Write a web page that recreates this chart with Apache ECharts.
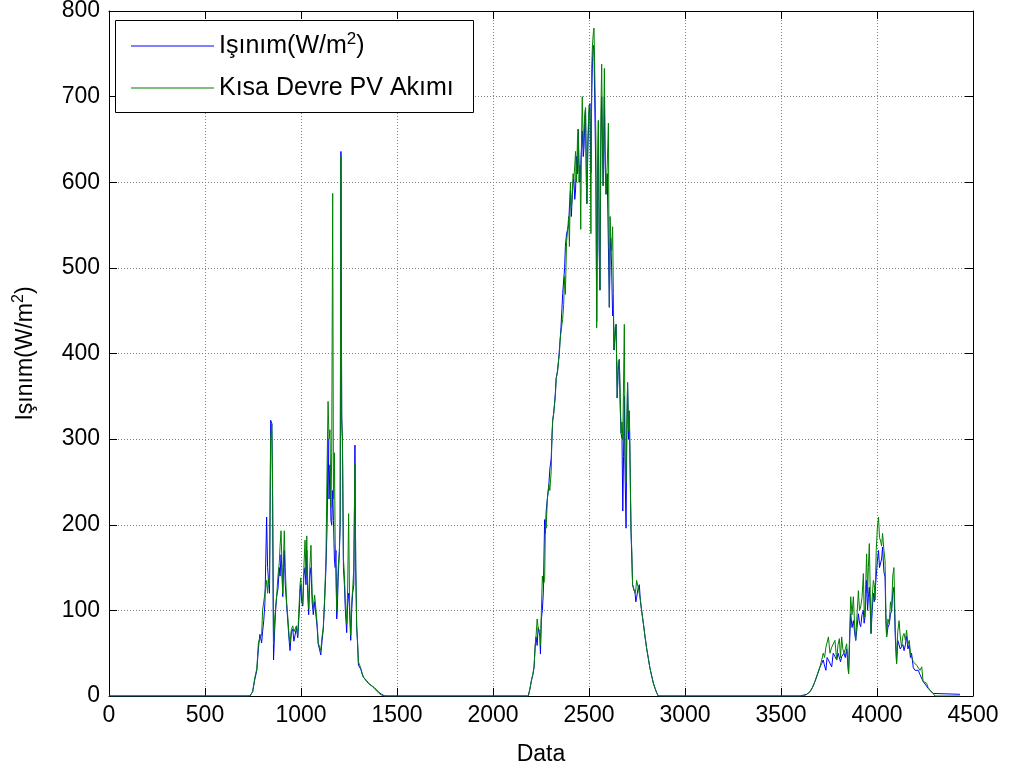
<!DOCTYPE html>
<html><head><meta charset="utf-8">
<script src="https://cdn.jsdelivr.net/npm/echarts@6/dist/echarts.min.js"></script>
<style>html,body{margin:0;padding:0;background:#fff}#c{width:1012px;height:771px}</style>
</head><body><div id="c"></div>
<script>
// ---- data ----
const seriesNames = ['Işınım(W/m²)', 'Kısa Devre PV Akımı'];
const xTickValues = [0, 500, 1000, 1500, 2000, 2500, 3000, 3500, 4000, 4500];
const yTickValues = [0, 100, 200, 300, 400, 500, 600, 700, 800];

const startIndex = [0];
const startIrradiance = [0];
const startCurrent = [0];

const day1Index = [
  734, 748, 760, 770, 778, 786, 795, 800, 806, 812,
  821, 826, 830, 836, 842, 848, 852, 857, 863, 868,
  873, 880, 887, 891, 896, 900, 905, 909, 913, 918,
  925, 932, 938, 943, 950, 957, 963, 969, 976, 983,
  990, 995, 999, 1004, 1009, 1015, 1021, 1026, 1030, 1035,
  1040, 1046, 1052, 1058, 1064, 1071, 1078, 1084, 1090, 1096,
  1103, 1110, 1116, 1123, 1130, 1136, 1141, 1146, 1151, 1156,
  1160, 1165, 1169, 1174, 1178, 1182, 1186, 1189, 1194, 1200,
  1204, 1208, 1212, 1216, 1221, 1226, 1231, 1238, 1243, 1248,
  1253, 1259, 1264, 1269, 1275, 1281, 1285, 1290, 1295, 1299,
  1306, 1312, 1318, 1325, 1333, 1342, 1355, 1368, 1381, 1394,
  1407, 1420, 1437];
const day1Irradiance = [
  0, 5, 20, 30, 55, 72, 62, 75, 88, 108,
  209, 150, 138, 120, 322, 318, 230, 42, 78, 100,
  116, 125, 150, 140, 165, 150, 116, 150, 170, 130,
  107, 85, 65, 53, 75, 78, 64, 71, 80, 68,
  95, 120, 130, 110, 105, 140, 150, 130, 170, 120,
  95, 140, 150, 110, 95, 110, 110, 80, 60, 55,
  48, 65, 78, 110, 150, 200, 300, 230, 270, 205,
  200, 240, 205, 160, 150, 170, 90, 100, 140, 169,
  200, 636, 330, 290, 150, 130, 100, 74, 110, 120,
  100, 65, 100, 120, 130, 293, 150, 80, 60, 36,
  35, 31, 26, 22, 20, 17, 14, 12, 10, 7,
  4, 2, 0];
const day1Current = [
  0, 5, 22, 32, 62, 68, 71, 100, 102, 120,
  135, 120, 138, 130, 300, 318, 250, 60, 90, 104,
  116, 140, 156, 175, 193, 160, 120, 160, 193, 150,
  110, 90, 70, 62, 78, 82, 75, 75, 82, 71,
  105, 130, 138, 118, 107, 150, 182, 140, 187, 130,
  102, 150, 176, 120, 102, 118, 116, 85, 62, 60,
  53, 70, 80, 115, 160, 271, 344, 300, 311, 220,
  284, 587, 230, 284, 180, 182, 100, 102, 150, 169,
  210, 630, 320, 302, 160, 142, 110, 84, 125, 213,
  110, 71, 110, 124, 150, 271, 156, 82, 62, 40,
  38, 32, 27, 22, 20, 18, 14, 12, 9, 6,
  3, 1, 0];

const day2Index = [
  2184, 2192, 2201, 2208, 2214, 2219, 2224, 2230, 2235, 2240,
  2244, 2247, 2252, 2257, 2262, 2269, 2273, 2277, 2283, 2291,
  2296, 2303, 2307, 2311, 2316, 2320, 2325, 2329, 2336, 2342,
  2346, 2349, 2354, 2359, 2363, 2368, 2373, 2377, 2383, 2389,
  2394, 2398, 2403, 2408, 2412, 2417, 2421, 2426, 2430, 2435,
  2440, 2444, 2448, 2453, 2457, 2461, 2465, 2470, 2474, 2478,
  2482, 2486, 2489, 2494, 2500, 2505, 2510, 2514, 2518, 2522,
  2526, 2531, 2536, 2540, 2545, 2549, 2553, 2557, 2562, 2566,
  2570, 2574, 2580, 2584, 2589, 2595, 2601, 2606, 2610, 2613,
  2618, 2623, 2627, 2630, 2636, 2641, 2647, 2652, 2658, 2662,
  2667, 2672, 2676, 2680, 2684, 2688, 2693, 2697, 2701, 2706,
  2710, 2715, 2719, 2723, 2727, 2733, 2740, 2744, 2748, 2755,
  2762, 2768, 2774, 2783, 2792, 2800, 2809, 2817, 2826, 2835,
  2844, 2852, 2861];
const day2Irradiance = [
  0, 8, 19, 25, 34, 55, 69, 59, 80, 79,
  70, 49, 90, 100, 120, 206, 190, 216, 230, 247,
  265, 277, 300, 322, 330, 340, 355, 371, 380, 393,
  405, 414, 430, 452, 470, 469, 500, 525, 540, 545,
  550, 571, 590, 560, 580, 600, 604, 580, 591, 630,
  610, 662, 620, 600, 621, 640, 660, 630, 641, 670,
  687, 600, 575, 640, 680, 692, 611, 700, 740, 760,
  755, 753, 600, 437, 600, 672, 520, 474, 650, 700,
  640, 596, 700, 620, 586, 610, 525, 454, 520, 535,
  500, 444, 450, 404, 420, 434, 348, 380, 393, 340,
  307, 300, 216, 280, 350, 260, 196, 300, 366, 300,
  333, 250, 191, 160, 130, 125, 120, 110, 115, 125,
  130, 110, 100, 85, 69, 56, 44, 33, 24, 15,
  9, 4, 0];
const day2Current = [
  0, 8, 19, 26, 34, 58, 69, 90, 80, 79,
  75, 60, 100, 140, 130, 135, 200, 196, 230, 247,
  240, 262, 305, 322, 330, 340, 350, 371, 378, 393,
  400, 414, 425, 434, 440, 457, 490, 469, 530, 545,
  560, 525, 600, 570, 580, 610, 604, 620, 636, 600,
  650, 662, 600, 620, 545, 650, 700, 640, 641, 680,
  687, 620, 575, 650, 690, 687, 540, 733, 760, 773,
  780, 778, 650, 430, 620, 672, 540, 474, 680, 738,
  650, 596, 733, 640, 586, 620, 669, 454, 560, 535,
  520, 548, 470, 404, 430, 434, 348, 390, 393, 360,
  307, 320, 300, 300, 434, 280, 250, 320, 366, 310,
  333, 260, 191, 170, 130, 125, 120, 125, 135, 128,
  130, 112, 100, 85, 69, 56, 44, 33, 24, 15,
  9, 4, 0];

const day3Index = [
  3600, 3616, 3634, 3651, 3664, 3677, 3690, 3703, 3712, 3720,
  3727, 3734, 3740, 3747, 3755, 3764, 3772, 3781, 3790, 3797,
  3804, 3810, 3816, 3822, 3828, 3835, 3842, 3852, 3857, 3863,
  3870, 3877, 3883, 3889, 3896, 3903, 3909, 3915, 3922, 3929,
  3933, 3937, 3941, 3946, 3951, 3955, 3960, 3965, 3969, 3975,
  3981, 3986, 3990, 3996, 4002, 4008, 4013, 4019, 4024, 4029,
  4036, 4042, 4046, 4050, 4057, 4064, 4070, 4076, 4082, 4088,
  4095, 4102, 4108, 4115, 4121, 4128, 4135, 4141, 4148, 4154,
  4161, 4168, 4174, 4180, 4189, 4198, 4206, 4215, 4224, 4233,
  4240, 4250, 4258, 4266, 4279, 4292, 4302, 4432];
const day3Irradiance = [
  0, 1, 2, 5, 10, 17, 25, 34, 38, 42,
  35, 30, 45, 42, 40, 34, 50, 46, 42, 50,
  50, 40, 46, 45, 50, 45, 55, 26, 60, 96,
  80, 88, 75, 65, 80, 96, 85, 81, 95, 100,
  85, 92, 110, 135, 100, 115, 127, 100, 73, 100,
  120, 110, 112, 140, 158, 170, 150, 150, 160, 174,
  145, 139, 90, 69, 80, 84, 95, 100, 120, 127,
  70, 38, 65, 65, 55, 57, 60, 53, 60, 70,
  55, 60, 45, 50, 33, 30, 30, 30, 25, 25,
  17, 14, 12, 9, 6, 3, 2, 2];
const day3Current = [
  0, 0, 2, 5, 10, 17, 26, 34, 42, 50,
  45, 57, 55, 69, 50, 57, 55, 65, 42, 60,
  67, 45, 69, 55, 50, 55, 61, 26, 70, 116,
  95, 116, 85, 65, 95, 123, 100, 104, 115, 143,
  100, 92, 130, 166, 120, 150, 178, 120, 73, 115,
  135, 130, 112, 170, 197, 209, 185, 181, 175, 190,
  170, 158, 100, 69, 90, 84, 110, 100, 140, 150,
  80, 38, 75, 88, 70, 57, 70, 73, 65, 77,
  60, 65, 50, 50, 40, 42, 36, 38, 30, 34,
  17, 18, 15, 10, 6, 3, 0, 0];

// ---- build series pairs ----
const indexAll = [].concat(startIndex, day1Index, day2Index, day3Index);
const irrAll = [].concat(startIrradiance, day1Irradiance, day2Irradiance, day3Irradiance);
const curAll = [].concat(startCurrent, day1Current, day2Current, day3Current);
const irrPairs = indexAll.map((x, i) => [x, irrAll[i]]);
const curPairs = indexAll.map((x, i) => [x, curAll[i]]);

const FONT = "'Liberation Sans', Arial, sans-serif";
const chart = echarts.init(document.getElementById('c'), null, {renderer: 'canvas'});
const plain = v => String(v);
const toRich = s => s.replace('²', '{sup|2}');
const xCommon = {
  type: 'value', min: xTickValues[0], max: xTickValues[xTickValues.length - 1],
  interval: xTickValues[1] - xTickValues[0]
};
const yCommon = {
  type: 'value', min: yTickValues[0], max: yTickValues[yTickValues.length - 1],
  interval: yTickValues[1] - yTickValues[0]
};
chart.setOption({
  animation: false,
  backgroundColor: '#fff',
  grid: {left: 109, top: 11, width: 864, height: 685, containLabel: false, outerBoundsMode: 'none'},
  xAxis: [
    Object.assign({}, xCommon, {
      position: 'bottom', name: 'Data', nameLocation: 'middle', nameGap: 47,
      nameTextStyle: {color: '#000', fontSize: 23, fontFamily: FONT},
      axisLine: {onZero: false, lineStyle: {color: '#000', width: 1}},
      axisTick: {inside: true, length: 8, lineStyle: {color: '#000'}},
      axisLabel: {color: '#000', fontSize: 23, fontFamily: FONT, margin: 8, formatter: plain},
      splitLine: {show: true, lineStyle: {color: '#808080', type: [1, 2], width: 1}}
    }),
    Object.assign({}, xCommon, {
      position: 'top',
      axisLine: {onZero: false, lineStyle: {color: '#000', width: 1}},
      axisTick: {inside: true, length: 8, lineStyle: {color: '#000'}},
      axisLabel: {show: false}, splitLine: {show: false}
    })
  ],
  yAxis: [
    Object.assign({}, yCommon, {
      position: 'left', name: toRich(seriesNames[0]), nameLocation: 'middle', nameGap: 68,
      nameTextStyle: {color: '#000', fontSize: 23, fontFamily: FONT, lineHeight: 30,
        rich: {sup: {fontSize: 16, fontFamily: FONT, color: '#000', verticalAlign: 'top', lineHeight: 16}}},
      axisLine: {onZero: false, lineStyle: {color: '#000', width: 1}},
      axisTick: {inside: true, length: 8, lineStyle: {color: '#000'}},
      axisLabel: {color: '#000', fontSize: 23, fontFamily: FONT, margin: 9, formatter: plain},
      splitLine: {show: true, lineStyle: {color: '#808080', type: [1, 2], width: 1}}
    }),
    Object.assign({}, yCommon, {
      position: 'right',
      axisLine: {onZero: false, lineStyle: {color: '#000', width: 1}},
      axisTick: {inside: true, length: 8, lineStyle: {color: '#000'}},
      axisLabel: {show: false}, splitLine: {show: false}
    })
  ],
  graphic: [{
    type: 'rect', left: 115, top: 20, z: 50,
    shape: {width: 358, height: 92},
    style: {fill: '#fff', stroke: '#000', lineWidth: 1}
  }],
  legend: {
    orient: 'vertical', left: 131, top: 31, z: 60,
    padding: 0, itemGap: 12, itemWidth: 83, itemHeight: 1, icon: 'rect',
    formatter: toRich,
    textStyle: {color: '#000', fontSize: 25, fontFamily: FONT, lineHeight: 30,
      rich: {sup: {fontSize: 17, fontFamily: FONT, color: '#000', verticalAlign: 'top', lineHeight: 17}}},
    data: seriesNames
  },
  series: [
    {
      name: seriesNames[0], type: 'line', data: irrPairs, showSymbol: false,
      lineStyle: {color: '#0000ff', width: 1}, itemStyle: {color: '#0000ff'},
      xAxisIndex: 0, yAxisIndex: 0, sampling: null, z: 2
    },
    {
      name: seriesNames[1], type: 'line', data: curPairs, showSymbol: false,
      lineStyle: {color: '#008000', width: 1}, itemStyle: {color: '#008000'},
      xAxisIndex: 0, yAxisIndex: 0, sampling: null, z: 3
    }
  ]
});
</script>
</body></html>
